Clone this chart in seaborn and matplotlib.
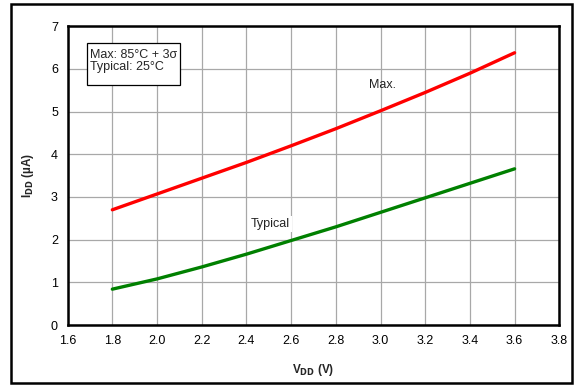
import matplotlib
matplotlib.use("Agg")
import matplotlib.pyplot as plt
from matplotlib.patches import Rectangle
import seaborn as sns
import pandas as pd

vdd = [1.8, 2.0, 2.2, 2.4, 2.6, 2.8, 3.0, 3.2, 3.4, 3.6]
idd_max = [2.70, 3.07, 3.44, 3.81, 4.20, 4.60, 5.02, 5.45, 5.90, 6.38]
idd_typ = [0.84, 1.08, 1.36, 1.66, 1.98, 2.30, 2.64, 2.98, 3.32, 3.66]
series_names = ["Max.", "Typical"]
x_ticks = [1.6, 1.8, 2.0, 2.2, 2.4, 2.6, 2.8, 3.0, 3.2, 3.4, 3.6, 3.8]
y_ticks = [0, 1, 2, 3, 4, 5, 6, 7]

df = pd.DataFrame({
    "VDD": vdd + vdd,
    "IDD": idd_max + idd_typ,
    "series": [series_names[0]] * len(vdd) + [series_names[1]] * len(vdd),
})

sns.set_style("white")
plt.rcParams['font.family'] = ['Liberation Sans', 'DejaVu Sans']

fig = plt.figure(figsize=(5.8, 3.87), dpi=100)
ax = fig.add_axes([0.1166, 0.1602, 0.9643 - 0.1166, 0.932 - 0.1602])

sns.lineplot(data=df, x="VDD", y="IDD", hue="series",
             palette={"Max.": "#ff0000", "Typical": "#008000"},
             linewidth=2.4, legend=False, ax=ax, zorder=3)

ax.set_xlim(1.6, 3.8)
ax.set_ylim(0, 7)
ax.set_xticks(x_ticks)
ax.set_xticklabels([f"{t:.1f}" for t in x_ticks])
ax.set_yticks(y_ticks)
ax.set_yticklabels([str(t) for t in y_ticks])
ax.tick_params(axis="both", length=0, labelsize=9, pad=7, colors="black")
ax.grid(True, color="#a8a8a8", linewidth=0.9)
ax.set_axisbelow(True)
for s in ax.spines.values():
    s.set_visible(True)
    s.set_color("black")
    s.set_linewidth(1.8)

ax.set_xlabel(r"V$_{\mathbf{DD}}$ (V)", fontsize=8.5, fontweight="bold", labelpad=11)
ax.set_ylabel(r"I$_{\mathbf{DD}}$ (µA)", fontsize=8.5, fontweight="bold", labelpad=11)

ax.text(3.01, 5.62, "Max.", fontsize=9, ha="center", va="center", color="#222222")
ax.text(2.506, 2.37, "Typical", fontsize=9, ha="center", va="center", color="#222222",
        bbox=dict(facecolor="white", edgecolor="none", pad=1.5), zorder=2)

ax.add_patch(Rectangle((1.688, 5.62), 2.103 - 1.688, 6.60 - 5.62, facecolor="white",
                       edgecolor="black", linewidth=0.9, zorder=4))
ax.text(1.700, 6.33, "Max: 85°C + 3σ", fontsize=9, ha="left", va="center", zorder=5)
ax.text(1.700, 6.04, "Typical: 25°C", fontsize=9, ha="left", va="center", zorder=5)

fig.patches.append(Rectangle((11 / 580, 1 - 383 / 387), (572 - 11) / 580, (383 - 4) / 387,
                             transform=fig.transFigure, fill=False, edgecolor="black",
                             linewidth=1.8))

fig.savefig("out.png", dpi=100)
